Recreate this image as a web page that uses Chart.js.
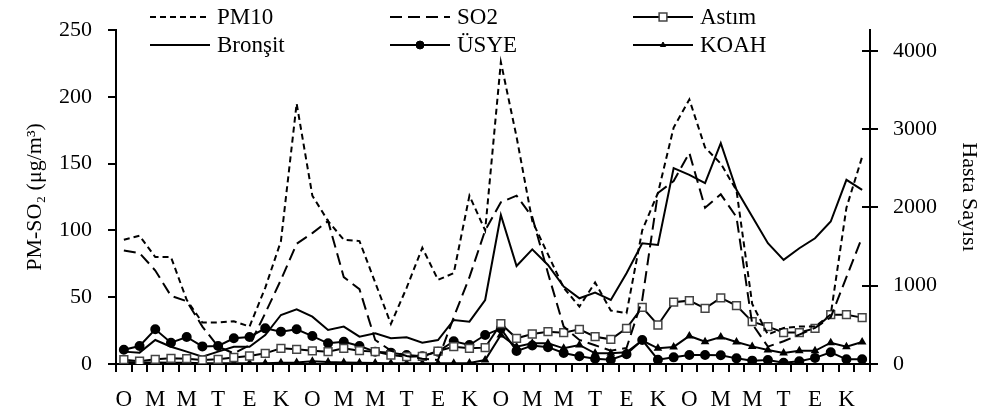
<!DOCTYPE html>
<html>
<head>
<meta charset="utf-8">
<script src="https://cdn.jsdelivr.net/npm/chart.js@4.4.1/dist/chart.umd.min.js"></script>
<style>
  html, body { margin: 0; padding: 0; background: #fff; }
</style>
</head>
<body>
<canvas id="hastaChart" width="992" height="416"></canvas>
<script>
// month initials (Ocak ... Aralık), 4 years
const months = ['O', 'Ş', 'M', 'N', 'M', 'H', 'T', 'A', 'E', 'E', 'K', 'A'];
const labels = months.concat(months, months, months);

// left axis (µg/m3)
const pm10 = [93, 96, 80, 80, 48, 31, 31, 32, 28, 57, 92, 195,
              126, 107, 93, 92, 61, 30, 57, 87, 63, 68, 126, 100,
              226, 170, 107, 82, 57, 43, 61, 40, 38, 100, 128, 177,
              198, 162, 150, 130, 45, 22, 27, 28, 28, 37, 117, 155];
const so2 = [85, 83, 70, 51, 47, 28, 13, 8, 14, 38, 63, 90,
             98, 107, 65, 56, 18, 10, 6, 4, 3, 35, 65, 100,
             121, 126, 110, 68, 28, 18, 14, 10, 12, 48, 128, 137,
             158, 117, 127, 110, 30, 13, 17, 22, 27, 35, 65, 95];
const leftTicks = [0, 50, 100, 150, 200, 250];

// right axis (Hasta Sayısı)
const astim = [55, 35, 60, 72, 68, 51, 60, 83, 102, 136, 200, 187,
               168, 158, 200, 170, 158, 115, 94, 98, 165, 221, 200, 209,
               515, 328, 383, 413, 400, 443, 349, 315, 455, 724, 498, 790,
               809, 711, 845, 745, 541, 477, 402, 402, 455, 630, 630, 592];
const bronsit = [158, 145, 307, 221, 158, 94, 158, 221, 221, 370, 626, 698,
                 605, 434, 477, 349, 392, 328, 340, 272, 306, 562, 541, 817,
                 1903, 1252, 1464, 1264, 988, 839, 911, 817, 1159, 1542, 1521, 2501,
                 2416, 2309, 2821, 2224, 1883, 1542, 1329, 1478, 1606, 1819, 2352, 2224];
const usye = [183, 230, 443, 272, 345, 225, 230, 328, 345, 455, 413, 443,
              357, 264, 285, 230, 158, 145, 115, 98, 158, 290, 243, 370,
              455, 165, 236, 215, 140, 98, 66, 55, 125, 306, 55, 85,
              115, 115, 111, 72, 43, 51, 17, 36, 78, 150, 60, 60];
const koah = [25, 20, 20, 15, 15, 10, 8, 8, 8, 10, 15, 20,
              35, 25, 20, 15, 12, 10, 8, 8, 9, 9, 12, 51,
              370, 221, 264, 264, 200, 243, 136, 136, 150, 300, 200, 218,
              358, 285, 345, 281, 225, 179, 140, 170, 168, 272, 221, 280];
const rightTicks = [0, 1000, 2000, 3000, 4000];

const serif = '"Liberation Serif", "DejaVu Serif", serif';
Chart.defaults.font.family = serif;
Chart.defaults.color = '#000';

const baseLine = {
    borderColor: '#000',
    borderWidth: 2,
    tension: 0,
    pointRadius: 0,
    fill: false
};

const datasets = [
    Object.assign({}, baseLine, { label: 'PM10', data: pm10, yAxisID: 'y', borderDash: [6, 4] }),
    Object.assign({}, baseLine, { label: 'SO2', data: so2, yAxisID: 'y', borderDash: [12, 6] }),
    Object.assign({}, baseLine, { label: 'Astım', data: astim, yAxisID: 'y2',
        pointStyle: 'rect', pointRadius: 5.5, pointBackgroundColor: '#fff',
        pointBorderColor: '#444', pointBorderWidth: 1.5 }),
    Object.assign({}, baseLine, { label: 'Bronşit', data: bronsit, yAxisID: 'y2' }),
    Object.assign({}, baseLine, { label: 'ÜSYE', data: usye, yAxisID: 'y2',
        pointStyle: 'circle', pointRadius: 4, pointBackgroundColor: '#000', pointBorderColor: '#000' }),
    Object.assign({}, baseLine, { label: 'KOAH', data: koah, yAxisID: 'y2',
        pointStyle: 'triangle', pointRadius: 3, pointBackgroundColor: '#000', pointBorderColor: '#000' })
];

// legend slots: two rows, three columns
const legendSlots = [
    { ds: 0, x: 150, y: 17 }, { ds: 1, x: 390, y: 17 }, { ds: 2, x: 633, y: 17 },
    { ds: 3, x: 150, y: 45 }, { ds: 4, x: 390, y: 45 }, { ds: 5, x: 633, y: 45 }
];

const legendPlugin = {
    id: 'twoRowLegend',
    afterDraw(chart) {
        const ctx = chart.ctx;
        ctx.save();
        // inner half of the right axis ticks
        const r = chart.scales.y2;
        ctx.strokeStyle = '#000';
        ctx.lineWidth = 2;
        ctx.setLineDash([]);
        r.ticks.forEach(t => {
            const py = Math.round(r.getPixelForValue(t.value));
            ctx.beginPath();
            ctx.moveTo(r.left - 8, py);
            ctx.lineTo(r.left, py);
            ctx.stroke();
        });

        legendSlots.forEach(s => {
            const d = chart.data.datasets[s.ds];
            ctx.strokeStyle = '#000';
            ctx.lineWidth = 2;
            ctx.setLineDash(d.borderDash || []);
            ctx.beginPath();
            ctx.moveTo(s.x, s.y);
            ctx.lineTo(s.x + 60, s.y);
            ctx.stroke();
            ctx.setLineDash([]);
            if (d.pointStyle) {
                ctx.fillStyle = d.pointBackgroundColor;
                ctx.strokeStyle = d.pointBorderColor;
                ctx.lineWidth = d.pointBorderWidth || 1;
                Chart.helpers.drawPoint(ctx, {
                    pointStyle: d.pointStyle,
                    radius: d.pointRadius,
                    rotation: 0,
                    borderWidth: d.pointBorderWidth || 1
                }, s.x + 30, s.y);
            }
            ctx.fillStyle = '#000';
            ctx.font = '23px ' + serif;
            ctx.textAlign = 'left';
            ctx.textBaseline = 'middle';
            ctx.fillText(d.label, s.x + 67, s.y + 1);
        });
        ctx.restore();
    }
};

const ctx = document.getElementById('hastaChart');

new Chart(ctx.getContext('2d'), {
    type: 'line',
    data: { labels: labels, datasets: datasets },
    options: {
        responsive: false,
        animation: false,
        layout: { padding: { top: 30, left: 0, right: 0, bottom: 0 } },
        plugins: {
            legend: { display: false },
            tooltip: { enabled: false }
        },
        scales: {
            x: {
                offset: true,
                grid: { offset: true, drawOnChartArea: false, color: '#000', lineWidth: 2, tickLength: 8 },
                border: { color: '#000', width: 2 },
                ticks: {
                    autoSkip: false,
                    maxRotation: 0,
                    padding: 14,
                    font: { size: 23 },
                    callback: (v, i) => (i % 2 === 0 ? labels[i] : '')
                },
                afterFit: scale => { scale.height = 52; }
            },
            y: {
                position: 'left',
                min: 0,
                max: 250,
                grid: { drawOnChartArea: false, color: '#000', lineWidth: 2, tickLength: 8 },
                border: { color: '#000', width: 2 },
                ticks: { padding: 16, font: { size: 22 }, callback: v => String(v) },
                afterBuildTicks: scale => { scale.ticks = leftTicks.map(v => ({ value: v })); },
                title: {
                    display: true,
                    text: 'PM-SO₂ (μg/m³)',
                    font: { size: 22 },
                    padding: { top: 22, bottom: 0 }
                },
                afterFit: scale => { scale.width = 116; }
            },
            y2: {
                position: 'right',
                min: 0,
                max: 4265,
                grid: { drawOnChartArea: false, color: '#000', lineWidth: 2, tickLength: 8 },
                border: { color: '#000', width: 2 },
                ticks: { padding: 15, font: { size: 22 }, callback: v => String(v) },
                afterBuildTicks: scale => { scale.ticks = rightTicks.map(v => ({ value: v })); },
                title: {
                    display: true,
                    text: 'Hasta Sayısı',
                    font: { size: 22 },
                    padding: { top: 10, bottom: 0 }
                },
                afterFit: scale => { scale.width = 122; }
            }
        }
    },
    plugins: [legendPlugin]
});
</script>
</body>
</html>
